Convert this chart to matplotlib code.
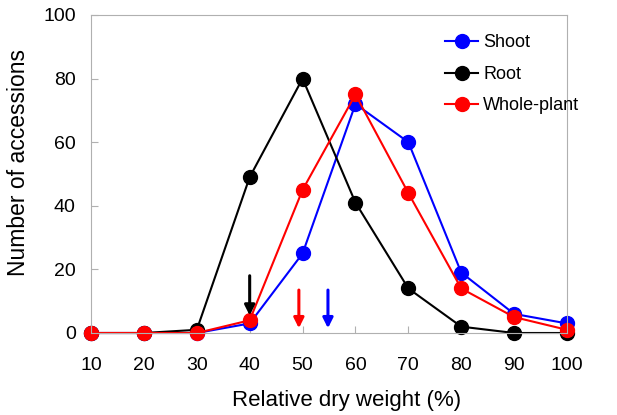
import numpy as np
import matplotlib.pyplot as plt

plt.rcParams['font.family'] = ['Liberation Sans', 'DejaVu Sans']

weight = [10, 20, 30, 40, 50, 60, 70, 80, 90, 100]
shoot = [0, 0, 0, 3, 25, 72, 60, 19, 6, 3]
root = [0, 0, 1, 49, 80, 41, 14, 2, 0, 0]
whole = [0, 0, 0, 4, 45, 75, 44, 14, 5, 1]

# mean positions marked by arrows
arrow_x = [40, 49.3, 54.8]
arrow_top = [18, 13.5, 13.5]
arrow_tip = [5.5, 1.5, 1.5]
arrow_col = ['black', 'red', 'blue']

fig = plt.figure(figsize=(6.17, 4.15), dpi=100)
ax = fig.add_axes([0.1475, 0.1976, 0.7715, 0.7663])

ax.plot(weight, shoot, '-o', color='blue', lw=1.5, ms=10, label='Shoot')
ax.plot(weight, root, '-o', color='black', lw=1.5, ms=10, label='Root')
ax.plot(weight, whole, '-o', color='red', lw=1.5, ms=10, label='Whole-plant')

for x, y0, y1, c in zip(arrow_x, arrow_top, arrow_tip, arrow_col):
    ax.annotate('', xy=(x, y1), xytext=(x, y0),
                arrowprops=dict(arrowstyle='-|>', color=c, lw=2.2, mutation_scale=15,
                                shrinkA=0, shrinkB=0))

ax.set_xlim(10, 100)
ax.set_ylim(0, 100)
ax.set_xticks(weight)
ax.set_yticks(np.arange(0, 101, 20))
ax.tick_params(direction='in', color='#b0b0b0', length=5, labelsize=14)
ax.tick_params(axis='x', pad=17)
ax.tick_params(axis='y', pad=11)
for s in ax.spines.values():
    s.set_color('#b0b0b0')
for l in ax.lines:
    l.set_clip_on(False)

ax.set_xlabel('Relative dry weight (%)', fontsize=16)
ax.set_ylabel('Number of accessions', fontsize=16.5)
ax.xaxis.set_label_coords(0.536, -0.18)
ax.yaxis.set_label_coords(-0.128, 0.535)
ax.legend(loc='upper right', frameon=False, fontsize=13, handlelength=1.8,
          handletextpad=0.3, labelspacing=0.8, bbox_to_anchor=(1.06, 0.99))

fig.savefig('out.png', dpi=100)
